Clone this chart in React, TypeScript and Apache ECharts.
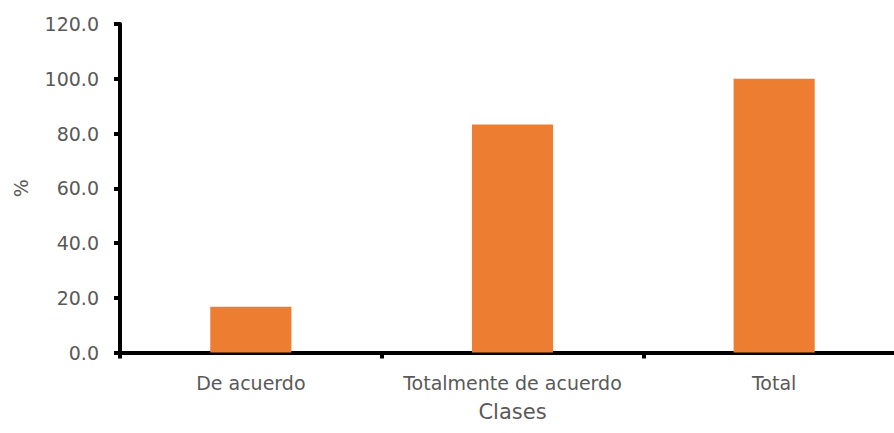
import React, { useEffect, useRef } from "react";
import * as echarts from "echarts";

const categories = ["De acuerdo", "Totalmente de acuerdo", "Total"];
const percentages = [16.7, 83.3, 100.0];
const yTicks = { min: 0, max: 120, interval: 20 };

const textColor = "#595959";
const fontFamily = "'DejaVu Sans', sans-serif";

export default function App() {
  const ref = useRef<HTMLDivElement>(null);

  useEffect(() => {
    if (!ref.current) return;
    const chart = echarts.init(ref.current, undefined, { renderer: "svg" });
    chart.setOption({
      animation: false,
      backgroundColor: "#ffffff",
      grid: { left: 120, right: 0, top: 24, bottom: 80.5, containLabel: false },
      xAxis: {
        type: "category",
        data: categories,
        name: "Clases",
        nameLocation: "middle",
        nameGap: 49,
        nameTextStyle: { color: textColor, fontSize: 21, fontFamily },
        axisLine: { lineStyle: { color: "#000", width: 4 } },
        axisTick: { show: true, interval: 0, alignWithLabel: false, length: 6, lineStyle: { color: "#000", width: 4 } },
        axisLabel: { color: textColor, fontSize: 19, fontFamily, margin: 21, interval: 0, hideOverlap: false },
        splitLine: { show: false },
      },
      yAxis: {
        type: "value",
        min: yTicks.min,
        max: yTicks.max,
        interval: yTicks.interval,
        name: "%",
        nameLocation: "middle",
        nameRotate: 90,
        nameGap: 90,
        nameTextStyle: { color: textColor, fontSize: 19, fontFamily },
        axisLine: { show: true, lineStyle: { color: "#000", width: 4 } },
        axisTick: { show: true, length: 6, lineStyle: { color: "#000", width: 4 } },
        axisLabel: {
          color: textColor,
          fontSize: 19,
          fontFamily,
          margin: 21,
          formatter: (v: number) => v.toFixed(1),
        },
        splitLine: { show: false },
      },
      series: [
        {
          type: "bar",
          data: percentages,
          barWidth: "31%",
          itemStyle: { color: "#ED7D31" },
        },
      ],
    });
    return () => chart.dispose();
  }, []);

  // The plot's right edge runs a little past the visible frame, so the
  // chart is drawn wider and clipped by its wrapper.
  return (
    <div style={{ position: "absolute", left: 0, top: 0, width: 894, height: 433, overflow: "hidden" }}>
      <div ref={ref} style={{ width: 905, height: 433 }} />
    </div>
  );
}
